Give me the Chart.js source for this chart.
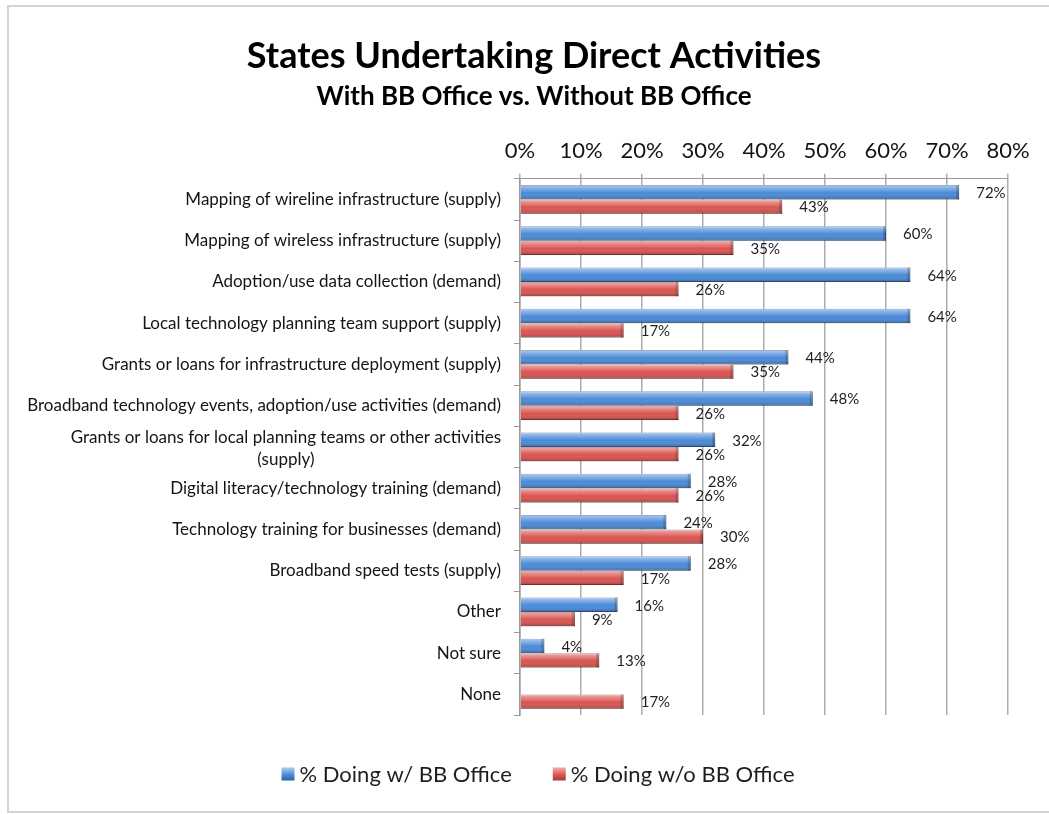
<!DOCTYPE html>
<html>
<head>
<meta charset="utf-8">
<script src="https://cdn.jsdelivr.net/npm/chart.js@4.4.1/dist/chart.umd.min.js"></script>
<style>
  html, body { margin: 0; padding: 0; background: #fff; }
  #wrap { position: relative; width: 1049px; height: 814px; overflow: hidden; }
  #frame { position: absolute; left: 7px; top: 5px; width: 1100px; height: 804px; border: 2px solid #d4d4d4; }
  #chart { position: absolute; left: 0; top: 0; }
</style>
</head>
<body>
<div id="wrap">
  <div id="frame"></div>
  <canvas id="chart" width="1049" height="814"></canvas>
</div>
<script>
// ---- data ----
var categories = [
  'Mapping of wireline infrastructure (supply)',
  'Mapping of wireless infrastructure (supply)',
  'Adoption/use data collection (demand)',
  'Local technology planning team support (supply)',
  'Grants or loans for infrastructure deployment (supply)',
  'Broadband technology events, adoption/use activities (demand)',
  ['Grants or loans for local planning teams or other activities', '(supply)'],
  'Digital literacy/technology training (demand)',
  'Technology training for businesses (demand)',
  'Broadband speed tests (supply)',
  'Other',
  'Not sure',
  'None'
];
var withOffice    = [72, 60, 64, 64, 44, 48, 32, 28, 24, 28, 16, 4, null];
var withoutOffice = [43, 35, 26, 17, 35, 26, 26, 26, 30, 17, 9, 13, 17];
var seriesNames = ['% Doing w/ BB Office', '% Doing w/o BB Office'];
var xMax = 80, xStep = 10;

var BLUE = '#4a8ad8', BLUE_EDGE = '#2b5a98';
var RED = '#da534f', RED_EDGE = '#9c3633';
var FONT = 'Lato, "Open Sans", sans-serif';

// glossy shading over each bar (3D look of the original)
var barShine = {
  id: 'barShine',
  afterDatasetsDraw: function(chart) {
    var ctx = chart.ctx;
    chart.data.datasets.forEach(function(ds, di) {
      chart.getDatasetMeta(di).data.forEach(function(bar, i) {
        if (ds.data[i] == null) return;
        var top = bar.y - bar.height / 2, bot = bar.y + bar.height / 2;
        var g = ctx.createLinearGradient(0, top, 0, bot);
        g.addColorStop(0, 'rgba(255,255,255,0.55)');
        g.addColorStop(0.3, 'rgba(255,255,255,0.25)');
        g.addColorStop(0.55, 'rgba(255,255,255,0)');
        g.addColorStop(1, 'rgba(0,0,0,0.28)');
        ctx.save();
        ctx.fillStyle = g;
        ctx.fillRect(bar.base, top, bar.x - bar.base, bot - top);
        ctx.fillStyle = 'rgba(0,0,0,0.18)';
        ctx.fillRect(bar.x - 3, top, 3, bot - top);
        ctx.restore();
      });
    });
  }
};

// value labels right of each bar
var valueLabels = {
  id: 'valueLabels',
  afterDatasetsDraw: function(chart) {
    var ctx = chart.ctx;
    ctx.save();
    ctx.font = '15px ' + FONT; ctx.fillStyle = '#1e1e1e';
    ctx.textAlign = 'left'; ctx.textBaseline = 'middle';
    chart.data.datasets.forEach(function(ds, di) {
      chart.getDatasetMeta(di).data.forEach(function(bar, i) {
        if (ds.data[i] == null) return;
        ctx.fillText(ds.data[i] + '%', bar.x + 17, bar.y + 1);
      });
    });
    ctx.restore();
  }
};

// category labels: right aligned, wrapped lines centred on each other
var categoryLabels = {
  id: 'categoryLabels',
  afterDraw: function(chart) {
    var ctx = chart.ctx, ys = chart.scales.y, right = chart.chartArea.left - 19;
    ctx.save();
    ctx.font = '17px ' + FONT; ctx.fillStyle = '#141414'; ctx.textBaseline = 'middle';
    categories.forEach(function(lab, i) {
      var cy = ys.getPixelForValue(i);
      if (Array.isArray(lab)) {
        var w = Math.max.apply(null, lab.map(function(s) { return ctx.measureText(s).width; }));
        ctx.textAlign = 'center';
        lab.forEach(function(s, j) { ctx.fillText(s, right - w / 2, cy + 2 + (j - (lab.length - 1) / 2) * 22); });
      } else {
        ctx.textAlign = 'right';
        ctx.fillText(lab, right, cy);
      }
    });
    ctx.restore();
  }
};

// legend at the bottom, drawn with glossy squares
var bottomLegend = {
  id: 'bottomLegend',
  afterDraw: function(chart) {
    var ctx = chart.ctx, box = 13, gap = 5, spacing = 41;
    var y = chart.chartArea.bottom + 60;
    ctx.save();
    ctx.font = '22px ' + FONT; ctx.textBaseline = 'middle'; ctx.textAlign = 'left';
    var widths = seriesNames.map(function(s) { return ctx.measureText(s).width; });
    var total = widths.reduce(function(a, w) { return a + box + gap + w; }, 0) + spacing;
    var x = 538 - total / 2;
    chart.data.datasets.forEach(function(ds, di) {
      var g = ctx.createLinearGradient(0, y - box / 2, 0, y + box / 2);
      g.addColorStop(0, di === 0 ? '#9cc6f0' : '#f2a09d');
      g.addColorStop(0.5, ds.backgroundColor);
      g.addColorStop(1, ds.borderColor);
      ctx.fillStyle = g;
      ctx.fillRect(x, y - box / 2 - 1, box, box);
      ctx.fillStyle = '#1e1e1e';
      ctx.fillText(seriesNames[di], x + box + gap, y);
      x += box + gap + widths[di] + spacing;
    });
    ctx.restore();
  }
};

new Chart(document.getElementById('chart').getContext('2d'), {
  type: 'bar',
  data: {
    labels: categories,
    datasets: [
      { label: seriesNames[0], data: withOffice, backgroundColor: BLUE, borderColor: BLUE_EDGE, borderWidth: 1, barPercentage: 1, categoryPercentage: 0.7 },
      { label: seriesNames[1], data: withoutOffice, backgroundColor: RED, borderColor: RED_EDGE, borderWidth: 1, barPercentage: 1, categoryPercentage: 0.7 }
    ]
  },
  options: {
    indexAxis: 'y',
    responsive: false, animation: false,
    layout: { padding: { left: 60, right: 41, top: 0, bottom: 99 } },
    scales: {
      x: {
        position: 'top', min: 0, max: xMax,
        grid: { color: '#acacac', lineWidth: 1.5, tickLength: 5 },
        border: { color: '#9a9a9a' },
        ticks: { stepSize: xStep, padding: 10, color: '#141414', font: { family: FONT, size: 22 }, callback: function(v) { return v + '%'; } }
      },
      y: {
        grid: { drawOnChartArea: false, tickLength: 6, color: '#9a9a9a', offset: true },
        border: { color: '#9a9a9a', width: 1.5 },
        ticks: { display: false },
        afterFit: function(s) { s.width = 460; }
      }
    },
    plugins: {
      legend: { display: false },
      tooltip: { enabled: false },
      title: { display: true, text: 'States Undertaking Direct Activities', color: '#000', font: { family: FONT, size: 36, weight: 'bold' }, padding: { top: 35, bottom: 0 } },
      subtitle: { display: true, text: 'With BB Office vs. Without BB Office', color: '#000', font: { family: FONT, size: 26, weight: 'bold' }, padding: { top: 3, bottom: 15 } }
    }
  },
  plugins: [barShine, valueLabels, categoryLabels, bottomLegend]
});
</script>
</body>
</html>
